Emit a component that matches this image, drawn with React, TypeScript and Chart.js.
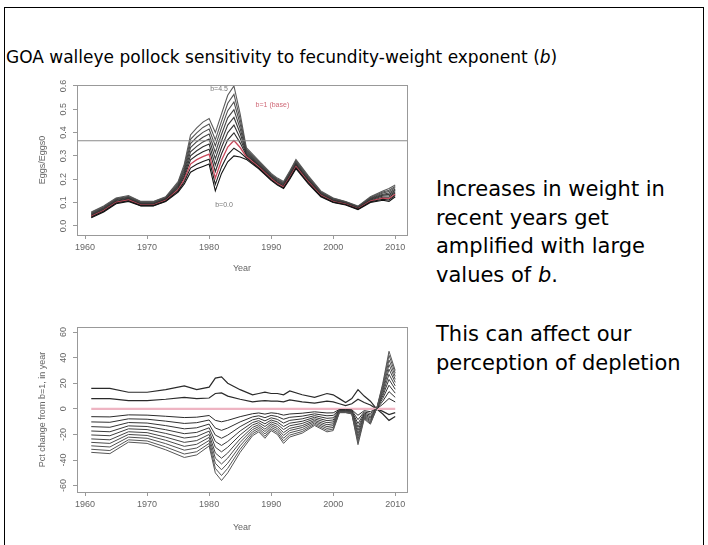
import React, { useEffect, useRef } from 'react';
import { Chart, registerables } from 'chart.js';
Chart.register(...registerables);

// ---------- Top panel: Eggs/Eggs0 by year for several b ----------
const topYears = [1961, 1963, 1965, 1967, 1969, 1971, 1973, 1975, 1976, 1977, 1978, 1979, 1980, 1981, 1982, 1983, 1984, 1985, 1986, 1988, 1990, 1991, 1992, 1993, 1994, 1996, 1998, 2000, 2002, 2004, 2006, 2008, 2009, 2010];
const topB00 = [.035, .060, .095, .105, .085, .085, .105, .145, .180, .230, .245, .255, .265, .150, .225, .275, .300, .295, .285, .245, .195, .175, .160, .200, .245, .180, .125, .100, .090, .070, .100, .110, .105, .125];
const topB05 = [.038, .063, .098, .108, .087, .087, .107, .150, .189, .248, .264, .276, .286, .178, .253, .306, .333, .315, .291, .249, .198, .178, .163, .204, .249, .184, .128, .102, .092, .072, .103, .114, .111, .131];
const topB10 = [.041, .066, .101, .111, .089, .089, .109, .155, .199, .265, .284, .297, .308, .205, .281, .338, .366, .336, .296, .253, .202, .182, .167, .208, .254, .188, .131, .104, .093, .073, .106, .119, .117, .136];
const topB15 = [.043, .068, .103, .113, .092, .092, .112, .160, .208, .283, .303, .318, .329, .233, .309, .369, .399, .356, .302, .257, .205, .185, .170, .212, .258, .192, .133, .107, .095, .075, .108, .123, .123, .142];
const topB20 = [.046, .071, .106, .116, .094, .094, .114, .165, .217, .300, .322, .339, .351, .260, .337, .400, .432, .376, .307, .260, .208, .188, .173, .215, .263, .195, .136, .109, .097, .077, .111, .128, .129, .147];
const topB25 = [.049, .074, .109, .119, .096, .096, .116, .170, .227, .318, .341, .360, .372, .288, .365, .432, .465, .397, .313, .264, .212, .192, .177, .219, .267, .199, .139, .111, .098, .078, .114, .132, .135, .153];
const topB30 = [.052, .077, .112, .122, .098, .098, .118, .175, .236, .336, .361, .380, .394, .315, .393, .463, .498, .417, .318, .268, .215, .195, .180, .223, .271, .203, .142, .113, .100, .080, .117, .136, .141, .158];
const topB35 = [.054, .079, .114, .124, .100, .100, .120, .180, .245, .353, .380, .401, .415, .343, .421, .494, .531, .437, .324, .272, .218, .198, .183, .227, .276, .207, .144, .115, .102, .082, .119, .141, .147, .164];
const topB40 = [.057, .082, .117, .127, .103, .103, .123, .185, .255, .371, .399, .422, .437, .370, .449, .526, .564, .458, .329, .276, .221, .201, .186, .231, .280, .211, .147, .118, .103, .083, .122, .145, .153, .169];
const topB45 = [.060, .085, .120, .130, .105, .105, .125, .190, .265, .390, .420, .445, .460, .400, .480, .560, .600, .480, .335, .280, .225, .205, .190, .235, .285, .215, .150, .120, .105, .085, .125, .150, .160, .175];
const topRefLevel = 0.365;
const topYTicks = [0, 0.1, 0.2, 0.3, 0.4, 0.5, 0.6];

// ---------- Bottom panel: percent change from b=1 ----------
const botYears = [1961, 1964, 1967, 1970, 1973, 1976, 1978, 1980, 1981, 1982, 1983, 1985, 1987, 1988, 1989, 1990, 1991, 1992, 1993, 1995, 1997, 1999, 2000, 2001, 2002, 2003, 2004, 2005, 2006, 2007, 2008, 2009, 2010];
const botB00 = [16, 16, 13, 13, 15, 18, 15, 17, 24, 25, 20, 15, 11, 12, 13, 12, 12, 11, 14, 11, 9, 12, 11, 8, 5, 8, 15, 10, 6, 0, -4, -9, -6];
const botB05 = [8, 8, 6.5, 6.5, 7.5, 9, 8, 8.5, 12, 12.5, 10, 7.5, 5.5, 6, 6.5, 6, 6, 5.5, 7, 5.5, 4.5, 6, 5.5, 4, 2.5, 4, 7.5, 5, 3, 0, -2, -4.5, -3];
const botL1 = [-6.1, -6.3, -4.7, -4.9, -5.8, -6.8, -6.5, -5.2, -9.0, -10.1, -9.0, -6.1, -3.8, -3.2, -4.1, -3.1, -3.6, -4.9, -4.0, -3.4, -2.3, -3.2, -3.1, -0.5, -0.5, -0.7, -5.0, -1.4, -2.2, 0, 3.6, 8.1, 5.4];
const botL2 = [-10.2, -10.5, -7.8, -8.1, -9.6, -11.4, -10.8, -8.7, -15.0, -16.8, -15.0, -10.2, -6.3, -5.4, -6.9, -5.1, -6.0, -8.1, -6.6, -5.7, -3.9, -5.4, -5.1, -0.9, -0.9, -1.2, -8.4, -2.4, -3.6, 0, 6.0, 13.5, 9.0];
const botL3 = [-13.9, -14.4, -10.7, -11.1, -13.1, -15.6, -14.8, -11.9, -20.5, -23.0, -20.5, -13.9, -8.6, -7.4, -9.4, -7.0, -8.2, -11.1, -9.0, -7.8, -5.3, -7.4, -7.0, -1.2, -1.2, -1.6, -11.5, -3.3, -4.9, 0, 8.2, 18.5, 12.3];
const botL4 = [-17.3, -17.9, -13.3, -13.8, -16.3, -19.4, -18.4, -14.8, -25.5, -28.6, -25.5, -17.3, -10.7, -9.2, -11.7, -8.7, -10.2, -13.8, -11.2, -9.7, -6.6, -9.2, -8.7, -1.5, -1.5, -2.0, -14.3, -4.1, -6.1, 0, 10.2, 23.0, 15.3];
const botL5 = [-20.4, -21.0, -15.6, -16.2, -19.2, -22.8, -21.6, -17.4, -30.0, -33.6, -30.0, -20.4, -12.6, -10.8, -13.8, -10.2, -12.0, -16.2, -13.2, -11.4, -7.8, -10.8, -10.2, -1.8, -1.8, -2.4, -16.8, -4.8, -7.2, 0, 12.0, 27.0, 18.0];
const botL6 = [-23.5, -24.2, -17.9, -18.6, -22.1, -26.2, -24.8, -20.0, -34.5, -38.6, -34.5, -23.5, -14.5, -12.4, -15.9, -11.7, -13.8, -18.6, -15.2, -13.1, -9.0, -12.4, -11.7, -2.1, -2.1, -2.8, -19.3, -5.5, -8.3, 0, 13.8, 31.1, 20.7];
const botL7 = [-26.2, -27.0, -20.0, -20.8, -24.6, -29.3, -27.7, -22.3, -38.5, -43.1, -38.5, -26.2, -16.2, -13.9, -17.7, -13.1, -15.4, -20.8, -16.9, -14.6, -10.0, -13.9, -13.1, -2.3, -2.3, -3.1, -21.6, -6.2, -9.2, 0, 15.4, 34.7, 23.1];
const botL8 = [-28.9, -29.8, -22.1, -23.0, -27.2, -32.3, -30.6, -24.7, -42.5, -47.6, -42.5, -28.9, -17.9, -15.3, -19.6, -14.5, -17.0, -23.0, -18.7, -16.2, -11.1, -15.3, -14.5, -2.6, -2.6, -3.4, -23.8, -6.8, -10.2, 0, 17.0, 38.3, 25.5];
const botL9 = [-31.6, -32.6, -24.2, -25.1, -29.8, -35.3, -33.5, -27.0, -46.5, -52.1, -46.5, -31.6, -19.5, -16.7, -21.4, -15.8, -18.6, -25.1, -20.5, -17.7, -12.1, -16.7, -15.8, -2.8, -2.8, -3.7, -26.0, -7.4, -11.2, 0, 18.6, 41.9, 27.9];
const botL10 = [-34, -35, -26, -27, -32, -38, -36, -29, -50, -56, -50, -34, -21, -18, -23, -17, -20, -27, -22, -19, -13, -18, -17, -3, -3, -4, -28, -8, -12, 0, 20, 45, 30];
const botRefYears = [1961, 2010];
const botRefValues = [0, 0];
const botYTicks = [-60, -40, -20, 0, 20, 40, 60];

const xTicks = [1960, 1970, 1980, 1990, 2000, 2010];
const X_MIN = 1958.7;
const X_MAX = 2011.9;

const topLabels = [
  { text: 'b=4.5', year: 1981.6, value: 0.585, color: '#777' },
  { text: 'b=0.0', year: 1982.4, value: 0.09, color: '#777' },
  { text: 'b=1 (base)', year: 1990.2, value: 0.52, color: '#d06a78' },
];

const TICK_FONT = { family: 'Liberation Sans', size: 9 };
const TICK_COLOR = '#666';
const AXIS_COLOR = '#999';

const pts = (xs: number[], ys: number[]) => xs.map((x, i) => ({ x, y: ys[i] }));

const boxPlugin = {
  id: 'rbox',
  afterDraw(chart: any) {
    const { ctx, chartArea: a } = chart;
    ctx.save();
    ctx.strokeStyle = AXIS_COLOR;
    ctx.lineWidth = 1;
    ctx.strokeRect(Math.round(a.left) + 0.5, Math.round(a.top) + 0.5, Math.round(a.right - a.left), Math.round(a.bottom - a.top));
    ctx.restore();
  },
};

const labelPlugin = {
  id: 'rlabels',
  afterDatasetsDraw(chart: any, _args: any, opts: any) {
    const items = (opts && opts.items) || [];
    const { ctx, scales } = chart;
    ctx.save();
    ctx.font = '7px "Liberation Sans"';
    ctx.textAlign = 'center';
    ctx.textBaseline = 'middle';
    items.forEach((it: any) => {
      ctx.fillStyle = it.color;
      ctx.fillText(it.text, scales.x.getPixelForValue(it.year), scales.y.getPixelForValue(it.value));
    });
    ctx.restore();
  },
};

function makeOptions(yMin: number, yMax: number, yTicks: number[], yTitle: string, yFmt: (v: number) => string, axisW: number, axisH: number, padTop: number, titleBottom: number, items: any[]) {
  return {
    responsive: false,
    animation: false,
    devicePixelRatio: 1,
    layout: { padding: { top: padTop, right: 13, left: 0, bottom: 0 } },
    elements: { point: { radius: 0 }, line: { tension: 0, borderWidth: 1 } },
    plugins: { legend: { display: false }, tooltip: { enabled: false }, rlabels: { items } },
    scales: {
      x: {
        type: 'linear',
        min: X_MIN,
        max: X_MAX,
        afterBuildTicks: (a: any) => { a.ticks = xTicks.map((v) => ({ value: v })); },
        afterFit: (s: any) => { s.height = axisH; },
        ticks: { font: TICK_FONT, color: TICK_COLOR, padding: 3, maxRotation: 0, autoSkip: false, callback: (v: any) => String(v) },
        grid: { drawOnChartArea: false, drawTicks: true, tickLength: 4, color: AXIS_COLOR },
        border: { display: false },
        title: { display: true, text: 'Year', font: TICK_FONT, color: TICK_COLOR, padding: { top: 0, bottom: titleBottom } },
      },
      y: {
        type: 'linear',
        min: yMin,
        max: yMax,
        afterBuildTicks: (a: any) => { a.ticks = yTicks.map((v) => ({ value: v })); },
        afterFit: (s: any) => { s.width = axisW; },
        ticks: { font: TICK_FONT, color: TICK_COLOR, padding: 3, minRotation: 90, maxRotation: 90, crossAlign: 'center', autoSkip: false, callback: (v: any) => yFmt(Number(v)) },
        grid: { drawOnChartArea: false, drawTicks: true, tickLength: 4, color: AXIS_COLOR },
        border: { display: false },
        title: { display: true, text: yTitle, font: TICK_FONT, color: TICK_COLOR, padding: { top: 7, bottom: 0 } },
      },
    },
  };
}

function ChartCanvas({ config, left, top, width, height }: any) {
  const ref = useRef<HTMLCanvasElement | null>(null);
  useEffect(() => {
    if (!ref.current) return;
    const c = new Chart(ref.current, config);
    return () => c.destroy();
  }, []);
  return <canvas ref={ref} width={width} height={height} style={{ position: 'absolute', left, top, width, height }} />;
}

const topSeries = [topB00, topB05, topB10, topB15, topB20, topB25, topB30, topB35, topB40, topB45];
const topColors = ['#111111', '#1c1c1c', '#c8485a', '#2a2a2a', '#333333', '#3b3b3b', '#444444', '#4c4c4c', '#555555', '#5c5c5c'];

const topConfig: any = {
  type: 'line',
  data: {
    datasets: [
      { data: pts([X_MIN, X_MAX], [topRefLevel, topRefLevel]), borderColor: '#8a8a8a', borderWidth: 1 },
      ...topSeries.map((s, i) => ({ data: pts(topYears, s), borderColor: topColors[i], borderWidth: i === 2 ? 1.3 : 1.1 })),
    ],
  },
  options: makeOptions(-0.039, 0.604, topYTicks, 'Eggs/Eggs0', (v) => v.toFixed(1), 47, 45, 10, 6, topLabels),
  plugins: [boxPlugin, labelPlugin],
};

const botSeries = [botL10, botL9, botL8, botL7, botL6, botL5, botL4, botL3, botL2, botL1];
const botColors = ['#555555', '#555555', '#505050', '#4a4a4a', '#454545', '#404040', '#3a3a3a', '#353535', '#303030', '#2a2a2a'];

const botConfig: any = {
  type: 'line',
  data: {
    datasets: [
      ...botSeries.map((s, i) => ({ data: pts(botYears, s), borderColor: botColors[i] })),
      { data: pts(botRefYears, botRefValues), borderColor: '#eeb4c2', borderWidth: 2.4 },
      { data: pts(botYears, botB05), borderColor: '#2a2a2a', borderWidth: 1.2 },
      { data: pts(botYears, botB00), borderColor: '#2a2a2a', borderWidth: 1.2 },
    ],
  },
  options: makeOptions(-65, 64, botYTicks, 'Pct change from b=1, in year', (v) => String(v), 47, 48, 12, 7, []),
  plugins: [boxPlugin, labelPlugin],
};

export default function App() {
  return (
    <div style={{ position: 'fixed', left: 0, top: 0, width: 708, height: 545, background: '#fff', overflow: 'hidden', fontFamily: '"DejaVu Sans", sans-serif', color: '#000' }}>
      <div style={{ position: 'absolute', left: 4, top: 7, width: 700, height: 560, border: '1.5px solid #000', boxSizing: 'border-box' }} />
      <div style={{ position: 'absolute', left: 6, top: 47, fontSize: 17, lineHeight: '20px', whiteSpace: 'nowrap' }}>
        GOA walleye pollock sensitivity to fecundity-weight exponent (<i>b</i>)
      </div>
      <ChartCanvas config={topConfig} left={30} top={75} width={390} height={205} />
      <ChartCanvas config={botConfig} left={30} top={315} width={390} height={225} />
      <div style={{ position: 'absolute', left: 436, top: 175, fontSize: 21, lineHeight: '28.5px', whiteSpace: 'nowrap' }}>
        Increases in weight in<br />recent years get<br />amplified with large<br />values of <i>b</i>.
      </div>
      <div style={{ position: 'absolute', left: 436, top: 320, fontSize: 21, lineHeight: '28.5px', whiteSpace: 'nowrap' }}>
        This can affect our<br />perception of depletion
      </div>
    </div>
  );
}
